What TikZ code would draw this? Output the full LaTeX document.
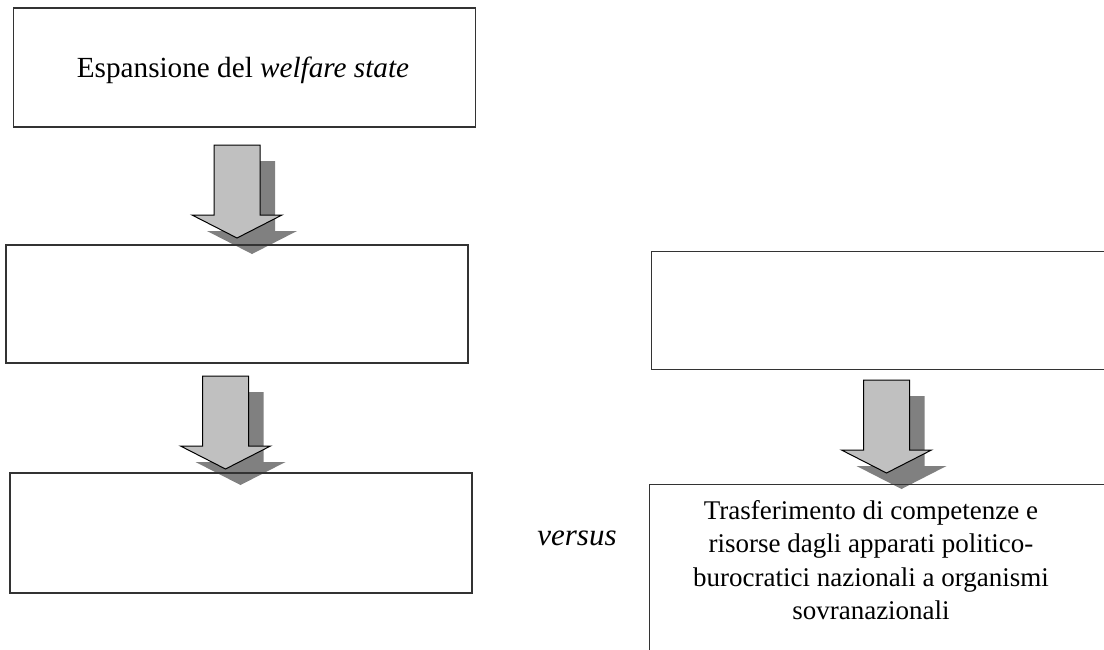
\documentclass[tikz,border=0pt]{standalone}
\usepackage{fontspec}
\setmainfont{Liberation Serif}
\definecolor{arrowfill}{HTML}{C0C0C0}
\definecolor{shadowfill}{HTML}{808080}
\definecolor{boxline}{HTML}{333333}
\tikzset{
  box/.style={draw=boxline, line width=1.3pt, inner sep=0pt},
  txt/.style={font=\fontsize{27}{33.5}\selectfont, inner sep=0pt, align=center},
  arrowshadow/.pic={
    \fill[shadowfill] (-23+15,16) -- (23+15,16) -- (23+15,86) -- (45+15,86)
      -- (15,109) -- (-45+15,86) -- (-23+15,86) -- cycle;
  },
  blockarrow/.pic={
    \filldraw[fill=arrowfill, draw=black, line width=1pt, line join=miter]
      (-23,0) -- (23,0) -- (23,70) -- (45,70) -- (0,93) -- (-45,70) -- (-23,70) -- cycle;
  }
}
\begin{document}
\begin{tikzpicture}[x=1pt, y=-1pt]
\useasboundingbox (0,0) rectangle (1104,649);
\clip (0,0) rectangle (1104,649);
% arrow anchors (top centre of shaft)
\coordinate (a1) at (237,145);
\coordinate (a2) at (225.5,376);
\coordinate (a3) at (886.5,380);
% shadows
\pic at (a1) {arrowshadow};
\pic at (a2) {arrowshadow};
\pic at (a3) {arrowshadow};
% boxes
\node[box, minimum width=462, minimum height=119] (b1) at (244.5,67.5) {};
\node[box, minimum width=462, minimum height=118] (b2) at (237,304) {};
\node[box, minimum width=462, minimum height=120] (b3) at (241,533) {};
\node[box, anchor=north west, minimum width=480, minimum height=118] (r1) at (651,251) {};
\node[box, anchor=north west, minimum width=480, minimum height=220] (r2) at (649,484) {};
% texts
\node[txt, font=\fontsize{29.2}{34}\selectfont, anchor=base] (t1) at (243,77) {Espansione del \textit{welfare state}};
\node[txt] (t2) at (871,560) {Trasferimento di competenze e\\risorse dagli apparati politico-\\burocratici nazionali a organismi\\sovranazionali};
\node[txt, font=\fontsize{31}{34}\selectfont, anchor=base] (vs) at (577,545) {\textit{versus}};
% arrows
\pic at (a1) {blockarrow};
\pic at (a2) {blockarrow};
\pic at (a3) {blockarrow};
\end{tikzpicture}
\end{document}
